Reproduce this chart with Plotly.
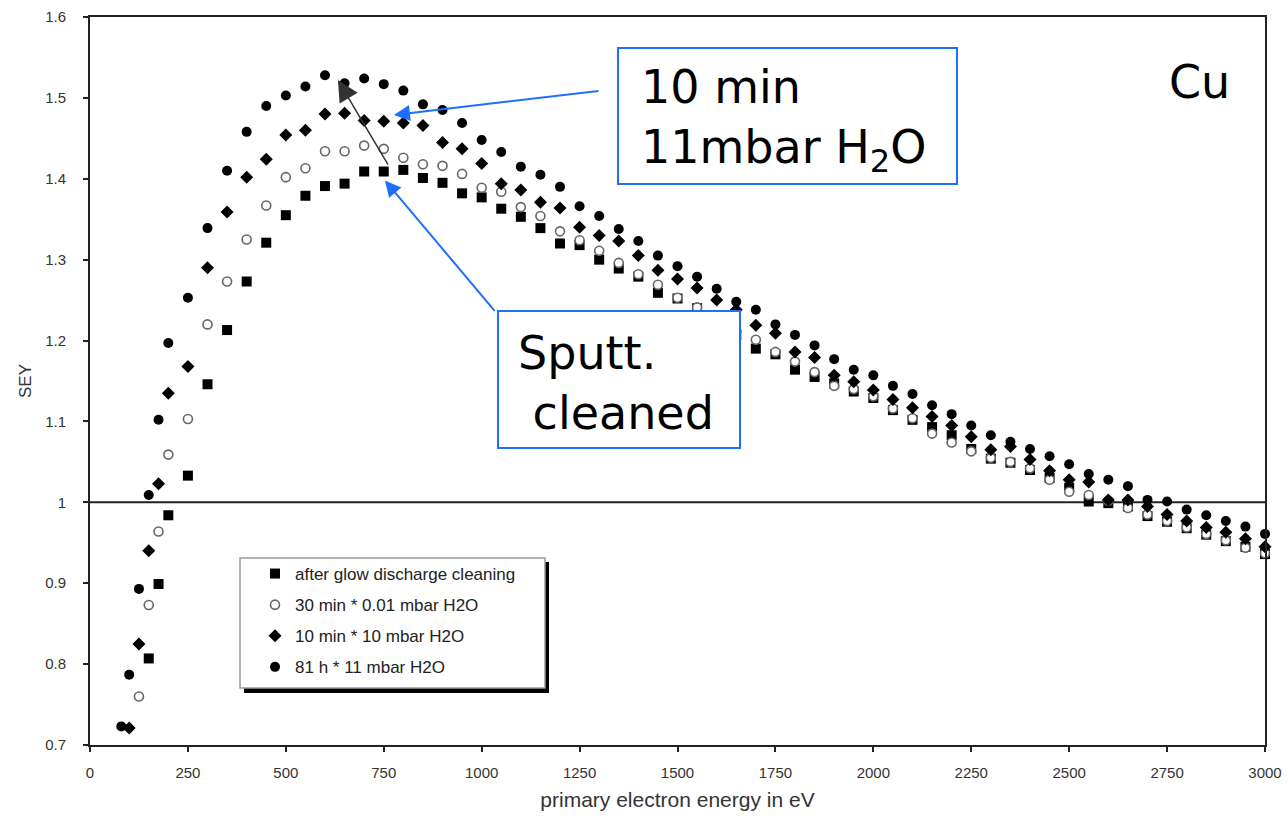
import plotly.graph_objects as go

# ---------------- data ----------------
HIGH_E = [250, 300, 350, 400, 450, 500, 550, 600, 650, 700, 750, 800, 850, 900, 950,
          1000, 1050, 1100, 1150, 1200, 1250, 1300, 1350, 1400, 1450, 1500, 1550, 1600,
          1650, 1700, 1750, 1800, 1850, 1900, 1950, 2000, 2050, 2100, 2150, 2200, 2250,
          2300, 2350, 2400, 2450, 2500, 2550, 2600, 2650, 2700, 2750, 2800, 2850, 2900,
          2950, 3000]

# after glow discharge cleaning (filled squares)
glow_E = [125, 150, 175, 200] + HIGH_E
glow_SEY = [0.697, 0.807, 0.899, 0.984,
            1.033, 1.146, 1.213, 1.273, 1.321, 1.355, 1.379, 1.391, 1.394, 1.409, 1.409,
            1.411, 1.401, 1.395, 1.382, 1.377, 1.363, 1.353, 1.339, 1.320, 1.318, 1.300,
            1.289, 1.279, 1.259, 1.252, 1.240, 1.225, 1.207, 1.190, 1.183, 1.164, 1.155,
            1.147, 1.137, 1.129, 1.114, 1.102, 1.093, 1.083, 1.066, 1.054, 1.049, 1.040,
            1.030, 1.018, 1.001, 0.999, 0.995, 0.983, 0.976, 0.968, 0.960, 0.952, 0.945,
            0.936]

# 30 min * 0.01 mbar H2O (open circles)
h2o_001_E = [125, 150, 175, 200] + HIGH_E
h2o_001_SEY = [0.760, 0.873, 0.964, 1.059,
               1.103, 1.220, 1.273, 1.325, 1.367, 1.402, 1.413, 1.434, 1.434, 1.441, 1.437,
               1.426, 1.418, 1.416, 1.406, 1.389, 1.384, 1.365, 1.354, 1.335, 1.324, 1.311,
               1.296, 1.282, 1.269, 1.253, 1.241, 1.228, 1.212, 1.201, 1.186, 1.174, 1.161,
               1.144, 1.140, 1.131, 1.116, 1.104, 1.085, 1.074, 1.063, 1.055, 1.050, 1.042,
               1.028, 1.013, 1.009, 1.002, 0.993, 0.985, 0.977, 0.969, 0.961, 0.953, 0.944,
               0.937]

# 10 min * 10 mbar H2O (diamonds)
h2o_10_E = [100, 125, 150, 175, 200] + HIGH_E
h2o_10_SEY = [0.721, 0.825, 0.940, 1.023, 1.135,
              1.168, 1.290, 1.359, 1.402, 1.424, 1.454, 1.460, 1.480, 1.481, 1.472, 1.471,
              1.469, 1.466, 1.445, 1.437, 1.419, 1.394, 1.386, 1.371, 1.364, 1.340, 1.330,
              1.323, 1.305, 1.287, 1.276, 1.265, 1.250, 1.238, 1.219, 1.209, 1.186, 1.179,
              1.157, 1.149, 1.139, 1.127, 1.117, 1.106, 1.095, 1.081, 1.065, 1.069, 1.053,
              1.039, 1.028, 1.025, 1.003, 1.003, 0.995, 0.985, 0.977, 0.969, 0.963, 0.955,
              0.945]

# 81 h * 11 mbar H2O (filled circles)
h2o_11_E = [80, 100, 125, 150, 175, 200] + HIGH_E
h2o_11_SEY = [0.723, 0.787, 0.893, 1.009, 1.102, 1.197,
              1.253, 1.339, 1.410, 1.458, 1.490, 1.503, 1.514, 1.528, 1.518, 1.524, 1.517,
              1.509, 1.492, 1.485, 1.469, 1.448, 1.433, 1.415, 1.405, 1.390, 1.366, 1.354,
              1.338, 1.323, 1.305, 1.292, 1.279, 1.264, 1.248, 1.238, 1.220, 1.207, 1.194,
              1.177, 1.164, 1.157, 1.144, 1.134, 1.120, 1.109, 1.095, 1.083, 1.075, 1.066,
              1.057, 1.047, 1.035, 1.028, 1.020, 1.003, 1.001, 0.991, 0.984, 0.977, 0.970,
              0.961]

series_names = ["after glow discharge cleaning", "30 min * 0.01 mbar H2O",
                "10 min * 10 mbar H2O", "81 h * 11 mbar H2O"]

x_tickvals = [0, 250, 500, 750, 1000, 1250, 1500, 1750, 2000, 2250, 2500, 2750, 3000]
x_ticktext = ["0", "250", "500", "750", "1000", "1250", "1500", "1750", "2000", "2250",
              "2500", "2750", "3000"]
y_tickvals = [0.7, 0.8, 0.9, 1.0, 1.1, 1.2, 1.3, 1.4, 1.5, 1.6]
y_ticktext = ["0.7", "0.8", "0.9", "1", "1.1", "1.2", "1.3", "1.4", "1.5", "1.6"]

# ---------------- figure ----------------
W, H = 1288, 821
ML, MR, MT, MB = 90, 23, 17, 76
PW, PH = W - ML - MR, H - MT - MB


def px_x(px):
    return (px - ML) / PW


def px_y(py):
    return (H - MB - py) / PH


fig = go.Figure()
AX = "#222222"
TXT = "#333333"
BLUE = "#1f6fff"

fig.add_trace(go.Scatter(
    x=glow_E, y=glow_SEY, mode="markers", name=series_names[0], legendgroup="g1",
    cliponaxis=False,
    marker=dict(symbol="square", size=10, color="black")))
fig.add_trace(go.Scatter(
    x=h2o_001_E, y=h2o_001_SEY, mode="markers", name=series_names[1], legendgroup="g2",
    cliponaxis=False,
    marker=dict(symbol="circle", size=9, color="white", line=dict(color="#666666", width=1.6))))
fig.add_trace(go.Scatter(
    x=h2o_10_E, y=h2o_10_SEY, mode="markers", name=series_names[2], legendgroup="g3",
    cliponaxis=False,
    marker=dict(symbol="diamond", size=10, color="black")))
fig.add_trace(go.Scatter(
    x=h2o_11_E, y=h2o_11_SEY, mode="markers", name=series_names[3], legendgroup="g4",
    cliponaxis=False,
    marker=dict(symbol="circle", size=10, color="black")))

shapes = [
    # SEY = 1 reference line
    dict(type="line", xref="paper", yref="y", x0=0, x1=1, y0=1.0, y1=1.0,
         line=dict(color=AX, width=2), layer="below"),
    # legend shadow + box
    dict(type="rect", xref="paper", yref="paper", x0=px_x(244), x1=px_x(549),
         y0=px_y(693), y1=px_y(562), fillcolor="black", line=dict(width=0), layer="above"),
    dict(type="rect", xref="paper", yref="paper", x0=px_x(240), x1=px_x(545),
         y0=px_y(688), y1=px_y(558), fillcolor="white",
         line=dict(color="#9a9a9a", width=1.5), layer="above"),
    # call-out boxes
    dict(type="rect", xref="paper", yref="paper", x0=px_x(618), x1=px_x(957),
         y0=px_y(184), y1=px_y(48), fillcolor="white",
         line=dict(color=BLUE, width=2), layer="above"),
    dict(type="rect", xref="paper", yref="paper", x0=px_x(498), x1=px_x(740),
         y0=px_y(448), y1=px_y(311), fillcolor="white",
         line=dict(color=BLUE, width=2), layer="above"),
]

BIG = dict(family="DejaVu Sans", size=46, color="black")
annotations = [
    dict(xref="paper", yref="paper", x=px_x(639), y=px_y(120), xanchor="left",
         yanchor="middle", text="10 min<br>11mbar H<sub>2</sub>O", showarrow=False,
         align="left", font=BIG),
    dict(xref="paper", yref="paper", x=px_x(516), y=px_y(383), xanchor="left",
         yanchor="middle", text="Sputt.<br>\u00a0cleaned", showarrow=False,
         align="left", font=BIG),
    dict(xref="paper", yref="paper", x=px_x(1199), y=px_y(82), xanchor="center",
         yanchor="middle", text="Cu", showarrow=False, font=BIG),
    # arrows
    dict(x=776, y=1.479, xref="x", yref="y", ax=206, ay=-24, text="", showarrow=True,
         arrowhead=2, arrowsize=1.6, arrowwidth=2, arrowcolor=BLUE, standoff=0),
    dict(x=753, y=1.398, xref="x", yref="y", ax=111, ay=132, text="", showarrow=True,
         arrowhead=2, arrowsize=1.6, arrowwidth=2, arrowcolor=BLUE, standoff=0),
    dict(x=633, y=1.522, xref="x", yref="y", ax=51, ay=86, text="", showarrow=True,
         arrowhead=2, arrowsize=2.8, arrowwidth=1.5, arrowcolor="#333333", standoff=0),
]

fig.update_layout(
    width=W, height=H,
    margin=dict(l=ML, r=MR, t=MT, b=MB, autoexpand=False),
    paper_bgcolor="white", plot_bgcolor="white",
    font=dict(family="Liberation Sans", color=TXT),
    shapes=shapes, annotations=annotations,
    showlegend=True,
    legend=dict(x=px_x(255), y=px_y(556), xanchor="left", yanchor="top",
                bgcolor="rgba(0,0,0,0)", borderwidth=0,
                traceorder="grouped", tracegroupgap=6,
                font=dict(family="Liberation Sans", size=17, color="#222222")),
    xaxis=dict(range=[0, 3000], tickvals=x_tickvals, ticktext=x_ticktext,
               showline=True, mirror=True, linecolor=AX, linewidth=2,
               ticks="outside", ticklen=5, tickwidth=1.5, tickcolor=AX,
               showgrid=False, zeroline=False, ticklabelstandoff=8,
               tickfont=dict(size=15, color=TXT),
               title=dict(text="primary electron energy in eV",
                          font=dict(size=21, color=TXT), standoff=12)),
    yaxis=dict(range=[0.7, 1.6], tickvals=y_tickvals, ticktext=y_ticktext,
               showline=True, mirror=True, linecolor=AX, linewidth=2,
               ticks="outside", ticklen=5, tickwidth=1.5, tickcolor=AX,
               showgrid=False, zeroline=False, ticklabelstandoff=14,
               tickfont=dict(size=15, color=TXT),
               title=dict(text="SEY", font=dict(size=17, color=TXT), standoff=9)),
)

fig.write_html("out.html")
